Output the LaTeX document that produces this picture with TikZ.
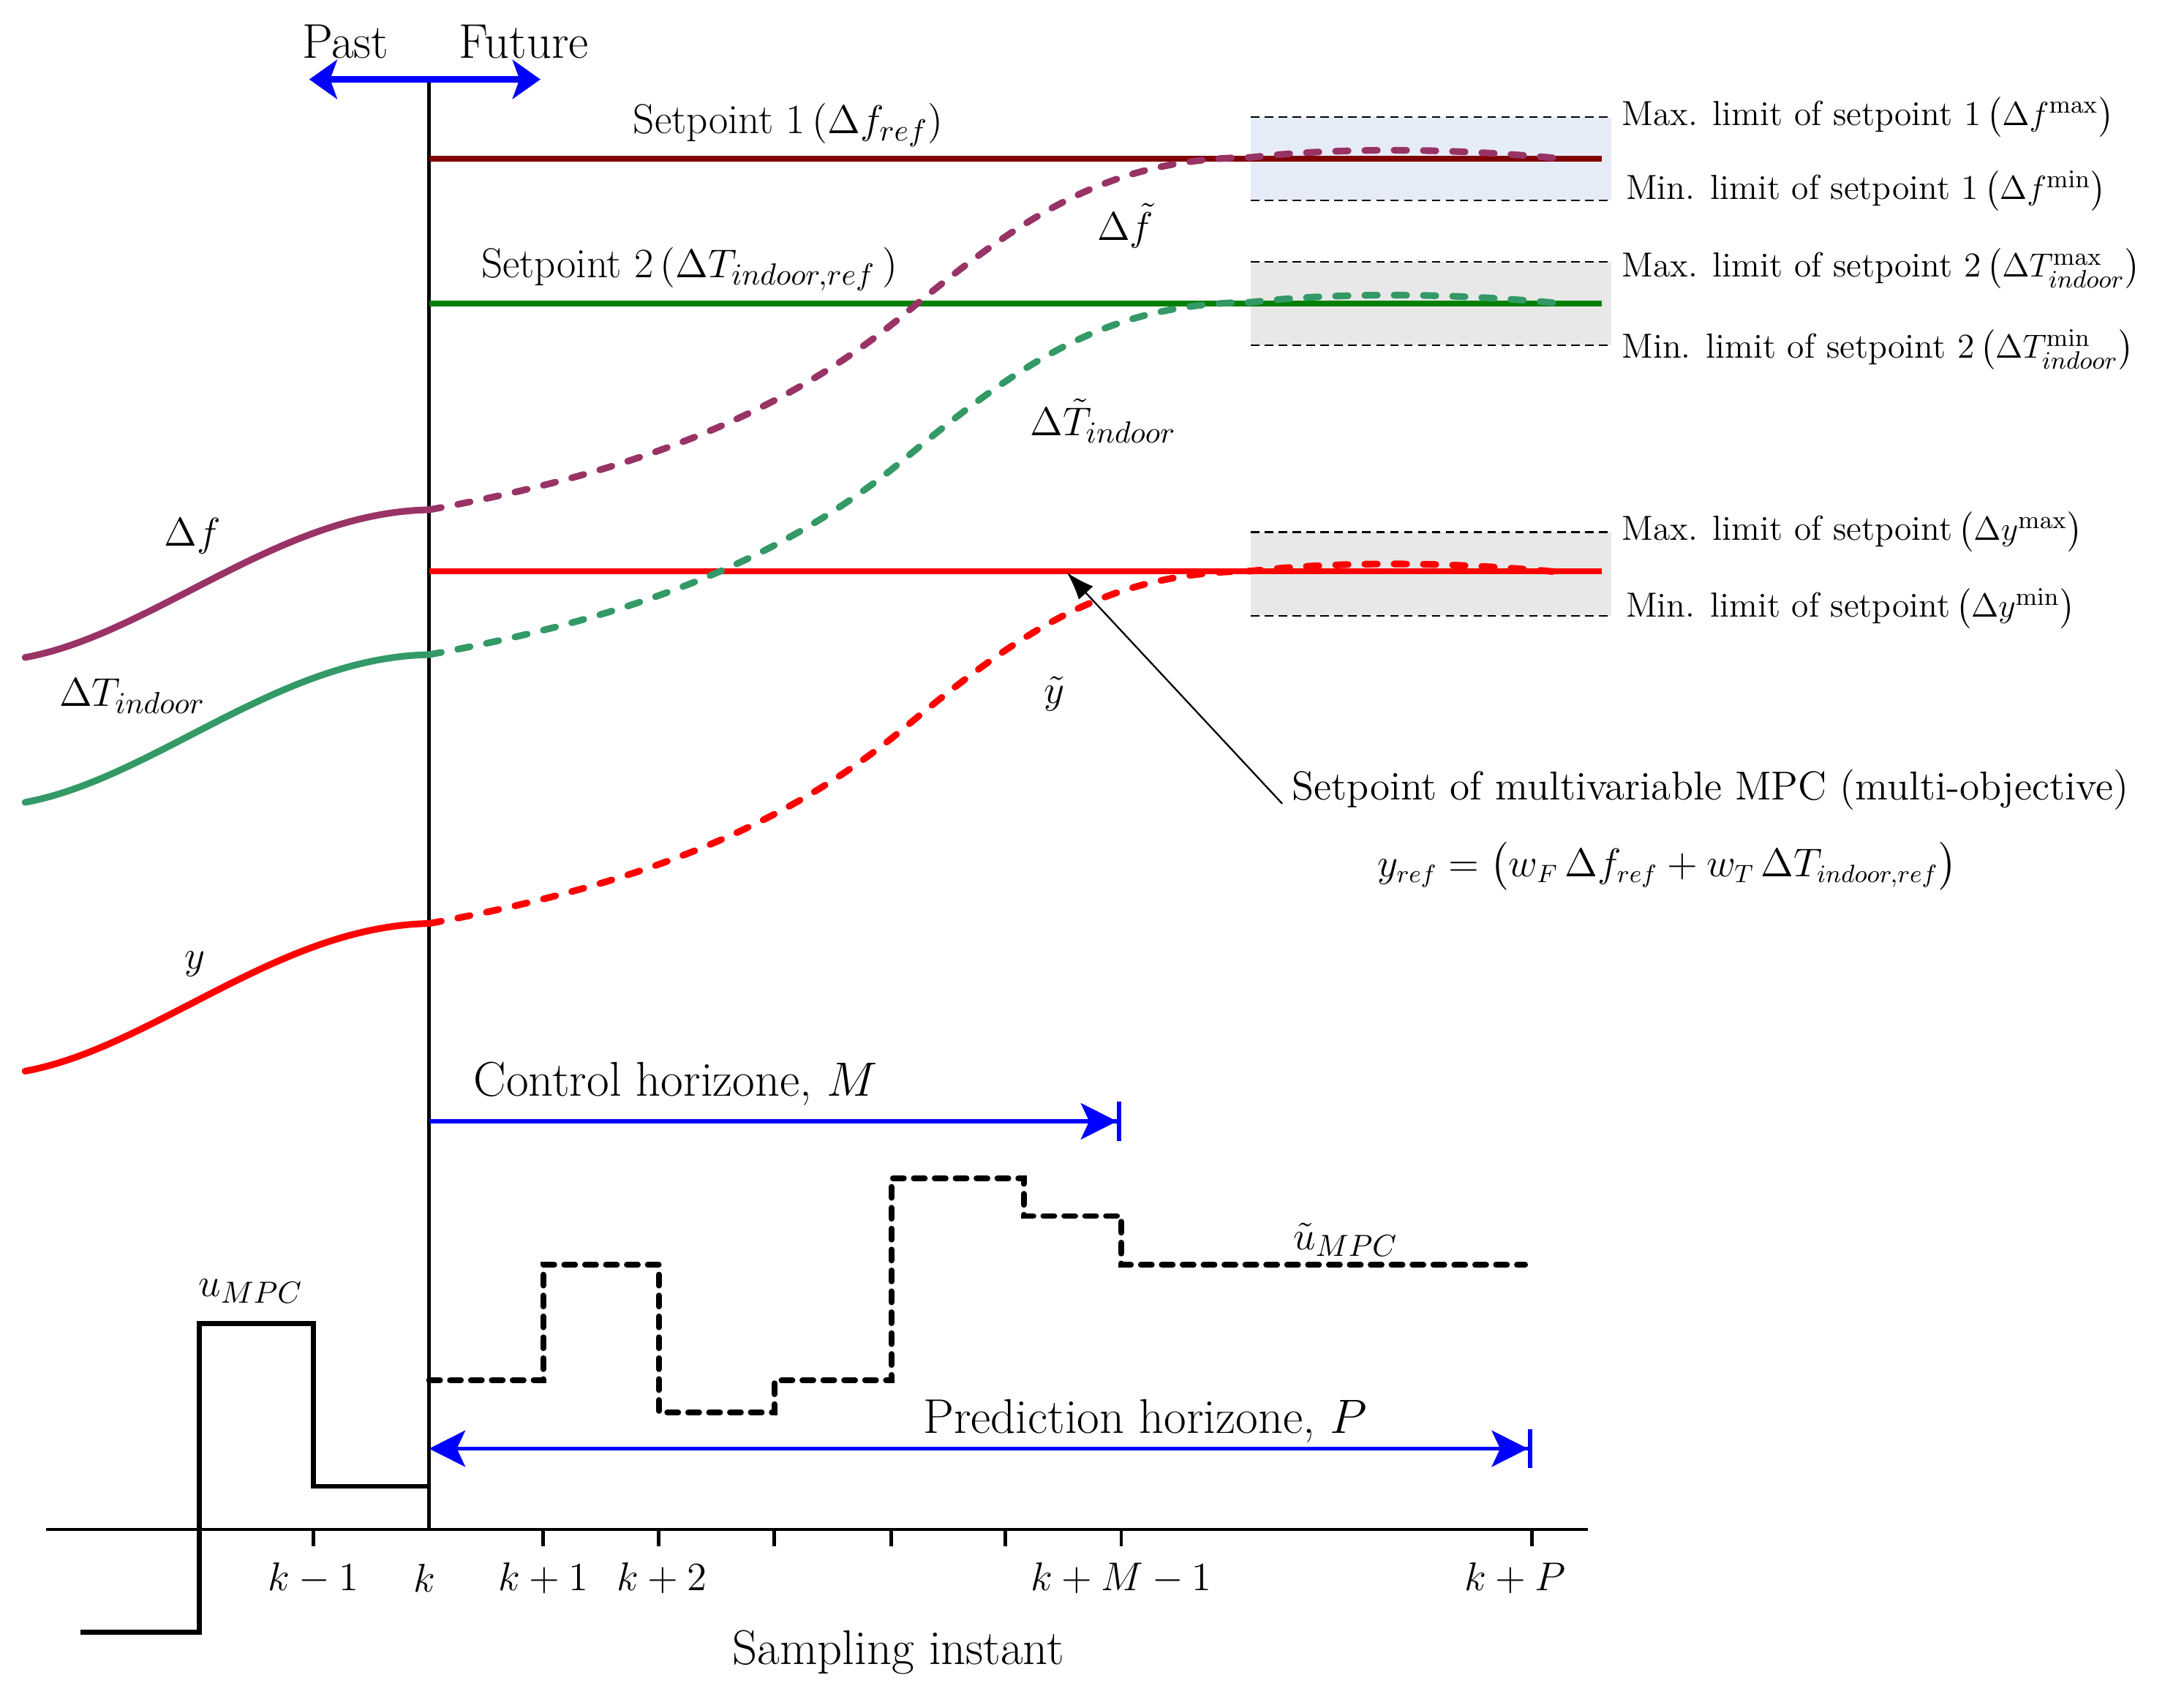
\documentclass[tikz,border=0pt]{standalone}
\usepackage{amsmath}
\usetikzlibrary{arrows.meta}

\definecolor{spone}{RGB}{128,0,0}
\definecolor{sptwo}{RGB}{0,128,0}
\definecolor{dfcol}{RGB}{153,51,102}
\definecolor{dtcol}{RGB}{51,153,102}
\definecolor{limblue}{RGB}{230,236,247}
\definecolor{limgray}{RGB}{232,232,232}

\tikzset{
  setline/.style={line width=2.2pt},
  pastline/.style={line width=2.4pt, line cap=round},
  predline/.style={line width=2.4pt, line cap=round, dash pattern=on 4.5pt off 6pt},
  limline/.style={line width=0.6pt, dash pattern=on 3pt off 2pt},
  uline/.style={line width=1.8pt},
  upred/.style={line width=2pt, line cap=round, dash pattern=on 4pt off 3.5pt},
  horizon/.style={blue, line width=1.5pt},
  bigtxt/.style={font=\fontsize{17.5}{21}\selectfont, inner sep=1pt},
  midtxt/.style={font=\fontsize{15}{18}\selectfont, inner sep=1pt},
  smalltxt/.style={font=\fontsize{12.5}{15}\selectfont, anchor=west, inner sep=0.5pt}
}

\begin{document}
\begin{tikzpicture}[x=0.5pt,y=0.5pt,yscale=-1,xscale=1]
\useasboundingbox (0,0) rectangle (1568,1224);

% limit bands
\fill[limblue] (898,84) rectangle (1157,144);
\fill[limgray] (898,188) rectangle (1157,248);
\fill[limgray] (898,382) rectangle (1157,442);
\draw[limline] (898,84) -- (1157,84);
\draw[limline] (898,144) -- (1157,144);
\draw[limline] (898,188) -- (1157,188);
\draw[limline] (898,248) -- (1157,248);
\draw[limline] (898,382) -- (1157,382);
\draw[limline] (898,442) -- (1157,442);

% now line and past / future
\coordinate (ktop) at (308,57);
\coordinate (kbot) at (308,1098);
\coordinate (pastend) at (222,57);
\coordinate (futend) at (388,57);
\draw[line width=1.5pt] (ktop) -- (kbot);
\draw[blue, line width=2.2pt, {Stealth[length=10pt, width=14pt, inset=2.5pt]}-{Stealth[length=10pt, width=14pt, inset=2.5pt]}] (pastend) -- (futend);
\node[bigtxt] (past) at (248,30) {Past};
\node[bigtxt] (future) at (376,30) {Future};

% setpoints
\draw[setline, spone] (308,114) -- (1150,114);
\draw[setline, sptwo] (308,218) -- (1150,218);
\draw[setline, red] (308,410) -- (1150,410);
\node[midtxt] (spa) at (566,90) {Setpoint 1\,$(\Delta f_{ref})$};
\node[midtxt] (spb) at (495,193) {Setpoint 2\,$(\Delta T_{indoor,ref}\,)$};

% past outputs
\draw[pastline, dfcol] (18,472) .. controls (110,455) and (200,368) .. (308,366);
\draw[pastline, dtcol] (18,576) .. controls (110,559) and (200,472) .. (308,470);
\draw[pastline, red] (18,769) .. controls (110,752) and (200,665) .. (308,663);

% predicted outputs
\draw[predline, dfcol] (308,366) .. controls (450,340) and (560,300) .. (650,225) .. controls (740,150) and (800,114) .. (898,113) .. controls (960,106) and (1040,106) .. (1122,114);
\draw[predline, dtcol] (308,470) .. controls (450,444) and (560,404) .. (650,329) .. controls (740,254) and (800,218) .. (898,217) .. controls (960,210) and (1040,210) .. (1122,218);
\draw[predline, red] (308,663) .. controls (450,637) and (560,597) .. (650,522) .. controls (740,447) and (800,411) .. (898,410) .. controls (960,403) and (1040,403) .. (1122,411);

\node[midtxt] (df) at (138,385) {$\Delta f$};
\node[midtxt] (dt) at (95,500) {$\Delta T_{indoor}$};
\node[midtxt] (yy) at (140,692) {$y$};
\node[midtxt] (dfp) at (808,162) {$\Delta \tilde{f}$};
\node[midtxt] (dtp) at (792,302) {$\Delta \tilde{T}_{indoor}$};
\node[midtxt] (yp) at (757,498) {$\tilde{y}$};

% limit labels
\node[smalltxt] (maxa) at (1163,84) {Max. limit of setpoint 1\,$\bigl(\Delta f^{\mathrm{max}}\bigr)$};
\node[smalltxt] (mina) at (1166,137) {Min. limit of setpoint 1\,$\bigl(\Delta f^{\mathrm{min}}\bigr)$};
\node[smalltxt] (maxb) at (1163,193) {Max. limit of setpoint 2\,$\bigl(\Delta T^{\mathrm{max}}_{indoor}\bigr)$};
\node[smalltxt] (minb) at (1163,251) {Min. limit of setpoint 2\,$\bigl(\Delta T^{\mathrm{min}}_{indoor}\bigr)$};
\node[smalltxt] (maxy) at (1163,382) {Max. limit of setpoint\,$\bigl(\Delta y^{\mathrm{max}}\bigr)$};
\node[smalltxt] (miny) at (1166,437) {Min. limit of setpoint\,$\bigl(\Delta y^{\mathrm{min}}\bigr)$};

% multi-objective setpoint
\coordinate (sptip) at (766,411);
\node[font=\fontsize{14.5}{17}\selectfont] (mpc) at (1228,567) {Setpoint of multivariable MPC (multi-objective)};
\node[font=\fontsize{13.5}{16}\selectfont] (yref) at (1197,622) {$y_{ref} = \bigl(w_F\,\Delta f_{ref} + w_T\,\Delta T_{indoor,ref}\bigr)$};
\draw[line width=0.6pt, -{Latex[length=10pt, width=7pt]}] ([yshift=5pt]mpc.west) -- (sptip);

% horizons
\coordinate (mend) at (805,805);
\coordinate (pstart) at (308,1040);
\coordinate (pend) at (1100,1040);
\draw[horizon, -{Stealth[length=13pt, width=13pt, inset=3pt, sep=0pt] Bar[width=14pt]}] (308,805) -- (mend);
\draw[horizon, {Stealth[length=13pt, width=13pt, inset=3pt]}-{Stealth[length=13pt, width=13pt, inset=3pt, sep=0pt] Bar[width=14pt]}] (pstart) -- (pend);
\node[bigtxt] (ctrl) at (485,778) {Control horizone, $M$};
\node[bigtxt] (predh) at (822,1020) {Prediction horizone, $P$};

% control moves
\draw[uline] (58,1172) -- (143,1172) -- (143,950) -- (225,950) -- (225,1067) -- (308,1067);
\draw[upred] (308,991) -- (390,991) -- (390,908) -- (473,908) -- (473,1014) -- (556,1014) -- (556,991) -- (640,991) -- (640,846) -- (735,846) -- (735,873) -- (805,873) -- (805,908) -- (1095,908);
\node[midtxt] (u) at (180,927) {$u_{MPC}$};
\node[midtxt] (up) at (966,890) {$\tilde{u}_{MPC}$};

% time axis
\draw[line width=1.3pt] (33,1098) -- (1140,1098);
\foreach \x in {225,390,473,556,640,722,805,1100}
  \draw[line width=1.3pt] (\x,1098) -- (\x,1110);
\node[midtxt] (km1) at (225,1133) {$k-1$};
\node[midtxt] (k0) at (305,1133) {$k$};
\node[midtxt] (kp1) at (390,1133) {$k+1$};
\node[midtxt] (kp2) at (475,1133) {$k+2$};
\node[midtxt] (kpm) at (805,1133) {$k+M-1$};
\node[midtxt] (kpp) at (1088,1133) {$k+P$};
\node[bigtxt] (xlab) at (645,1186) {Sampling instant};

\end{tikzpicture}
\end{document}
